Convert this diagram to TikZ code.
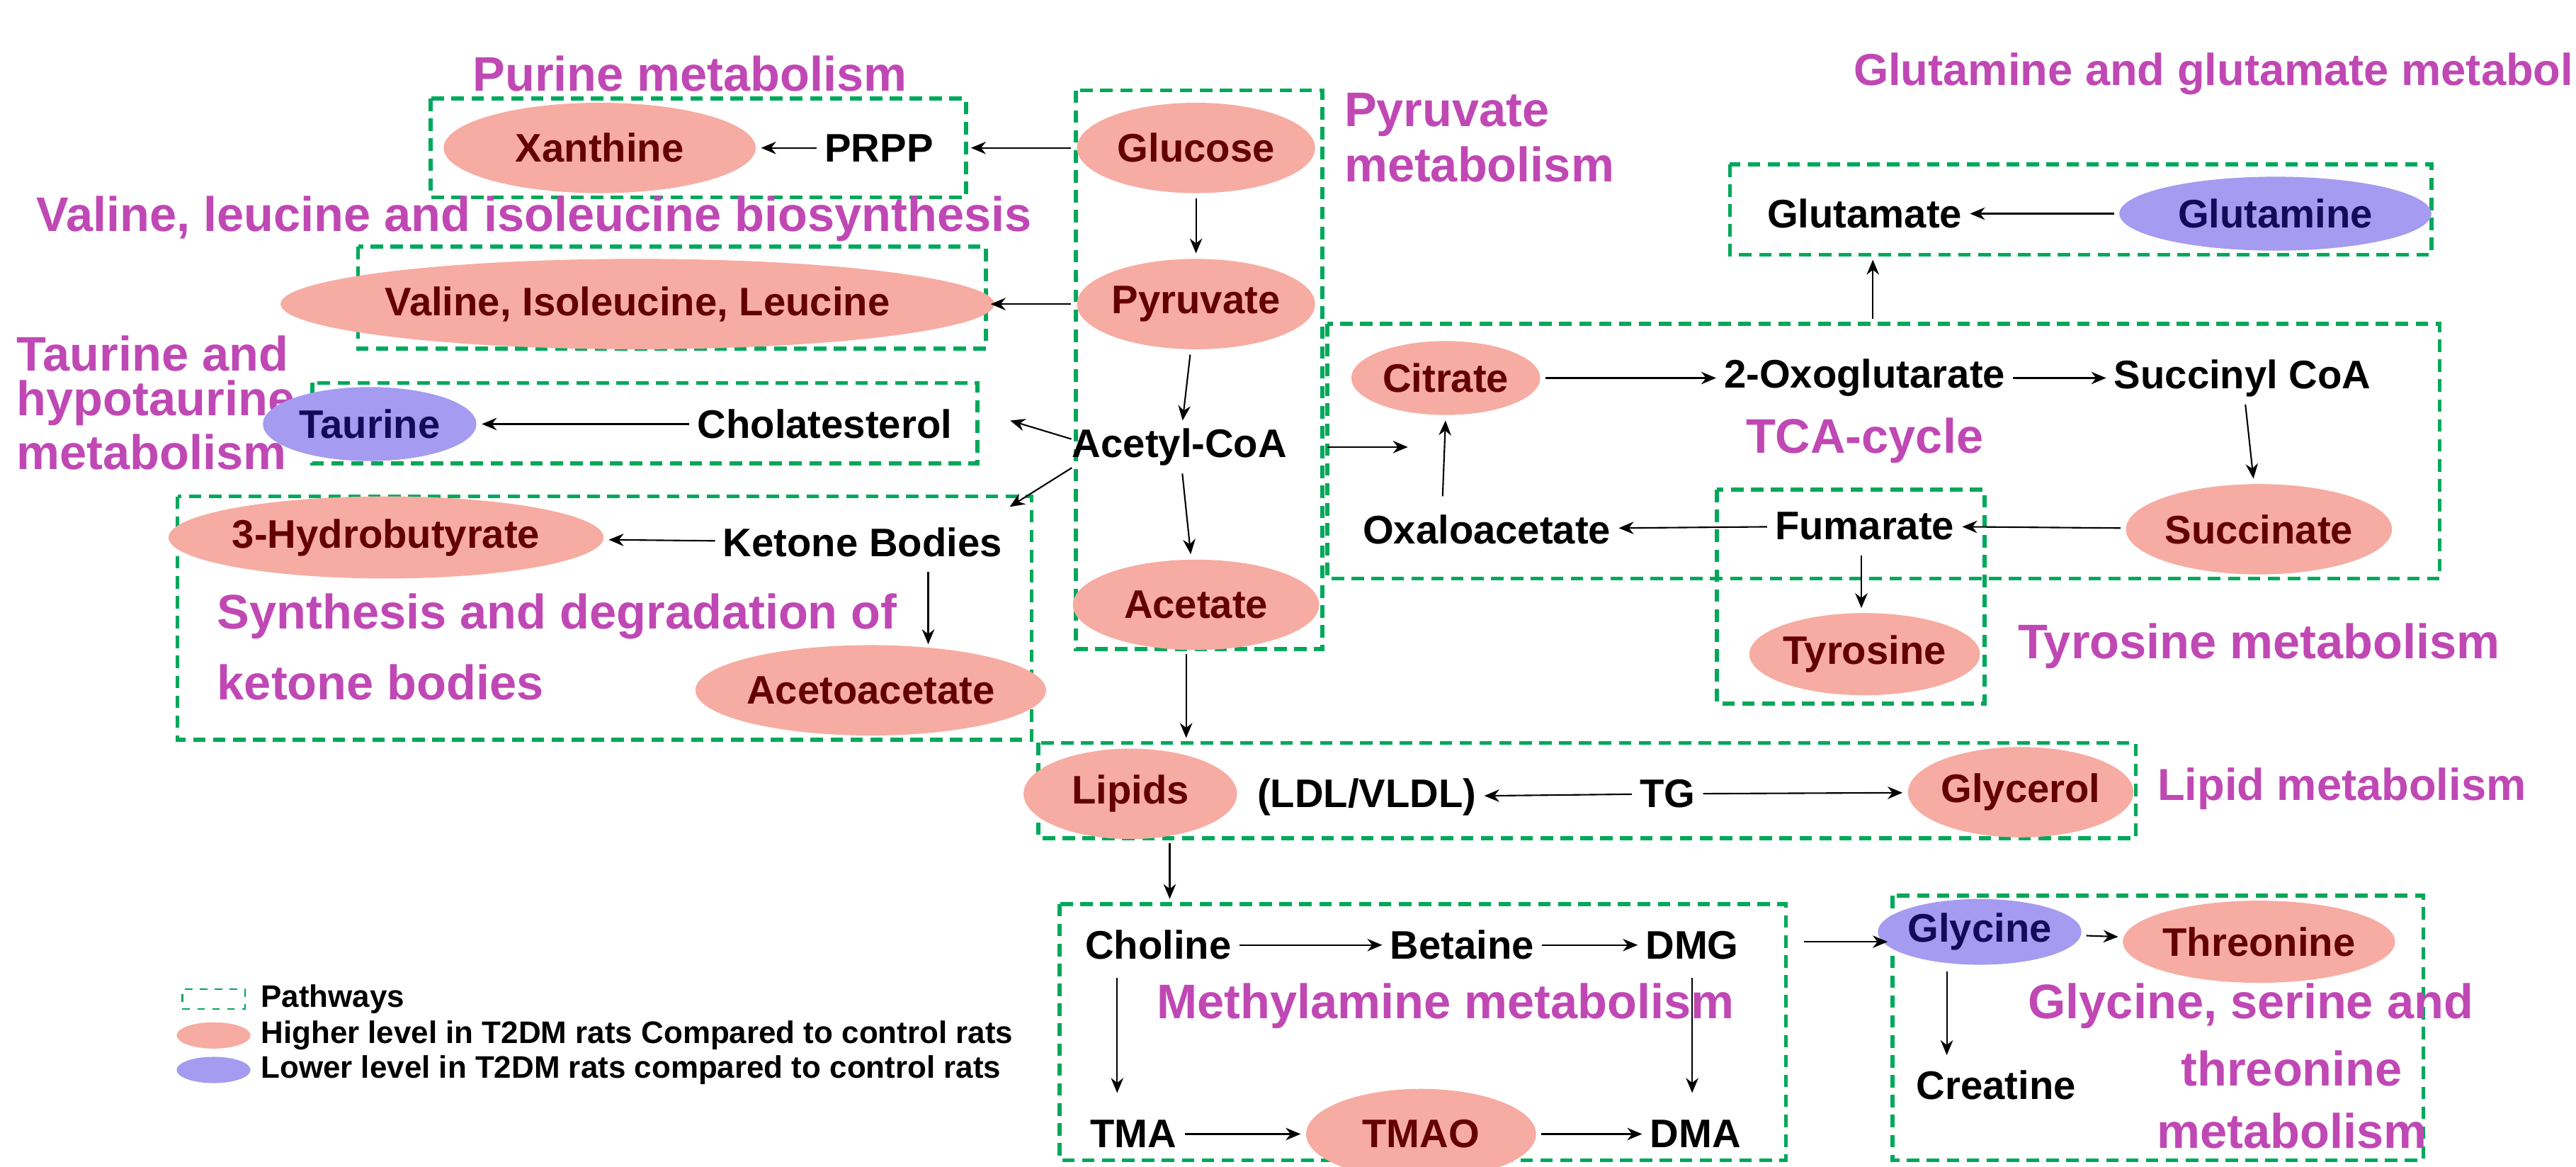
\documentclass[tikz,border=0pt]{standalone}
\usepackage{fontspec}
\setmainfont{Liberation Sans}
\usetikzlibrary{arrows.meta,shapes.geometric}
\definecolor{pk}{RGB}{246,172,162}
\definecolor{bl}{RGB}{165,155,240}
\definecolor{gr}{RGB}{0,168,90}
\definecolor{mg}{RGB}{192,72,180}
\definecolor{dr}{RGB}{100,0,0}
\definecolor{dn}{RGB}{20,10,90}
\newdimen\uu \uu=0.6596pt
\begin{document}
\begin{tikzpicture}[x=0.023195cm,y=-0.023195cm,
  t/.style={font=\fontsize{16}{18}\selectfont\bfseries,inner sep=1pt},
  ttl/.style={font=\fontsize{19.5}{20}\selectfont\bfseries,text=mg,inner sep=0pt},
  hi/.style={t,ellipse,fill=pk,text=dr,draw=none,inner sep=0pt},
  lo/.style={t,ellipse,fill=bl,text=dn,draw=none,inner sep=0pt},
  box/.style={draw=gr,line width=1.6pt,dash pattern=on 5pt off 3pt},
  ar/.style={-{Stealth[length=6pt,width=5pt]},line width=0.6pt,shorten >=2pt,shorten <=2pt}]
\useasboundingbox (0,0) rectangle (1568,710);
% boxes
\draw[box] (262,60) rectangle (588,120);
\draw[box] (655,55) rectangle (805,395);
\draw[box] (218,150) rectangle (600,212);
\draw[box] (190,233) rectangle (595,282);
\draw[box] (108,302) rectangle (628,450);
\draw[box] (1053,100) rectangle (1480,155);
\draw[box] (808,197) rectangle (1485,352);
\draw[box] (1045,298) rectangle (1208,428);
\draw[box] (632,452) rectangle (1300,510);
\draw[box] (645,550) rectangle (1087,706);
\draw[box] (1152,545) rectangle (1475,706);
% titles
\node[ttl] at (420,45) {Purine metabolism};
\node[ttl,anchor=west] at (818,70) {Pyruvate};
\node[ttl,anchor=west] at (818,100) {metabolism};
\node[ttl] at (325,133) {Valine, leucine and isoleucine biosynthesis};
\node[ttl,anchor=west] at (10,215) {Taurine and};
\node[ttl,anchor=west] at (10,245) {hypotaurine};
\node[ttl,anchor=west] at (10,275) {metabolism};
\node[ttl,anchor=west] at (132,375) {Synthesis and degradation of};
\node[ttl,anchor=west] at (132,415) {ketone bodies};
\node[ttl,anchor=west,font=\fontsize{18}{20}\selectfont\bfseries] at (1128,45) {Glutamine and glutamate metabolism};
\node[ttl] at (1135,268) {TCA-cycle};
\node[ttl,anchor=west] at (1228,393) {Tyrosine metabolism};
\node[ttl,anchor=west,font=\fontsize{18}{20}\selectfont\bfseries] at (1313,480) {Lipid metabolism};
\node[ttl] at (880,612) {Methylamine metabolism};
\node[ttl] at (1370,612) {Glycine, serine and};
\node[ttl] at (1395,650) {threonine};
\node[ttl] at (1395,688) {metabolism};
% nodes
\node[hi,minimum width=190\uu,minimum height=55\uu] (xan) at (365,90) {Xanthine};
\node[t] (prpp) at (535,90) {PRPP};
\node[hi,minimum width=145\uu,minimum height=55\uu] (glu) at (728,90) {Glucose};
\node[hi,minimum width=145\uu,minimum height=55\uu] (pyr) at (728,185) {Pyruvate};
\node[t] (acc) at (718,272) {Acetyl-CoA};
\node[hi,minimum width=150\uu,minimum height=55\uu] (ace) at (728,368) {Acetate};
\node[hi,minimum width=325\uu,minimum height=55\uu] (val) at (388,185) {Valine, Isoleucine, Leucine};
\node[lo,minimum width=130\uu,minimum height=45\uu] (tau) at (225,258) {Taurine};
\node[t] (cho) at (502,258) {Cholatesterol};
\node[hi,minimum width=250\uu,minimum height=50\uu] (hb) at (235,327) {3-Hydrobutyrate};
\node[t] (kb) at (525,330) {Ketone Bodies};
\node[hi,minimum width=190\uu,minimum height=55\uu] (aa) at (530,420) {Acetoacetate};
\node[t] (glut) at (1135,130) {Glutamate};
\node[lo,minimum width=190\uu,minimum height=45\uu] (glm) at (1385,130) {Glutamine};
\node[hi,minimum width=115\uu,minimum height=45\uu] (cit) at (880,230) {Citrate};
\node[t] (oxo) at (1135,230) {2-Oxoglutarate};
\node[t] (suc) at (1365,230) {Succinyl CoA};
\node[t] (oxa) at (905,322) {Oxaloacetate};
\node[hi,minimum width=140\uu,minimum height=55\uu] (sn) at (1375,322) {Succinate};
\node[t] (fum) at (1135,320) {Fumarate};
\node[hi,minimum width=125\uu,minimum height=50\uu] (tyr) at (1135,398) {Tyrosine};
\node[hi,minimum width=130\uu,minimum height=55\uu] (lip) at (688,483) {Lipids};
\node[t] (ldl) at (832,485) {(LDL/VLDL)};
\node[t] (tg) at (1015,483) {TG};
\node[hi,minimum width=130\uu,minimum height=55\uu] (gly) at (1230,482) {Glycerol};
\node[t] (chl) at (705,575) {Choline};
\node[t] (bet) at (890,575) {Betaine};
\node[t] (dmg) at (1030,575) {DMG};
\node[t] (tma) at (690,690) {TMA};
\node[hi,minimum width=140\uu,minimum height=55\uu] (tmao) at (865,690) {TMAO};
\node[t] (dma) at (1032,690) {DMA};
\node[lo,minimum width=112\uu,minimum height=40\uu] (gc) at (1205,567) {Glycine};
\node[hi,minimum width=140\uu,minimum height=50\uu] (thr) at (1375,573) {Threonine};
\node[t] (cre) at (1215,660) {Creatine};
% box anchor coordinates
\coordinate (pvL1) at (655,90); \coordinate (puR) at (588,90);
\coordinate (pvL2) at (655,185); \coordinate (vaR) at (600,185);
\coordinate (pvL3) at (655,268); \coordinate (taR) at (612,255);
\coordinate (pvL4) at (655,283); \coordinate (keR) at (612,310);
\coordinate (pvR) at (805,272); \coordinate (tcL) at (860,272);
\coordinate (tcT) at (1140,197); \coordinate (gmB) at (1140,155);
\coordinate (pvB) at (722,395); \coordinate (lpT) at (722,452);
\coordinate (lpB) at (712,510); \coordinate (meT) at (712,550);
\coordinate (meR) at (1095,573); \coordinate (gyL) at (1152,573);
\coordinate (kbd) at (565,345); \coordinate (aat) at (565,395);
\coordinate (oxt) at (878,305); \coordinate (cht) at (680,592);
\coordinate (tmt) at (680,668); \coordinate (gct) at (1185,588);
\coordinate (crt) at (1185,645);
\coordinate (dmb) at (1030,592); \coordinate (dmt) at (1030,668);
\coordinate (ftb) at (1133,335); \coordinate (tyt) at (1133,373);
% arrows
\draw[ar] (pvL1) -- (puR);
\draw[ar] (prpp) -- (xan);
\draw[ar] (glu) -- (pyr);
\draw[ar] (pyr) -- (acc);
\draw[ar] (acc) -- (ace);
\draw[ar] (pvL2) -- (vaR);
\draw[ar] (cho) -- (tau);
\draw[ar] (pvL3) -- (taR);
\draw[ar] (pvL4) -- (keR);
\draw[ar] (kb) -- (hb);
\draw[ar] (kbd) -- (aat);
\draw[ar] (pvR) -- (tcL);
\draw[ar] (tcT) -- (gmB);
\draw[ar] (glm) -- (glut);
\draw[ar] (cit) -- (oxo);
\draw[ar] (oxo) -- (suc);
\draw[ar] (suc) -- (sn);
\draw[ar] (sn) -- (fum);
\draw[ar] (fum) -- (oxa);
\draw[ar] (oxt) -- (cit.south);
\draw[ar] (ftb) -- (tyt);
\draw[ar] (pvB) -- (lpT);
\draw[ar] (tg) -- (ldl);
\draw[ar] (tg) -- (gly);
\draw[ar] (lpB) -- (meT);
\draw[ar] (chl) -- (bet);
\draw[ar] (bet) -- (dmg);
\draw[ar] (cht) -- (tmt);
\draw[ar] (dmb) -- (dmt);
\draw[ar] (tma) -- (tmao);
\draw[ar] (tmao) -- (dma);
\draw[ar] (meR) -- (gyL);
\draw[ar] (gc) -- (thr);
\draw[ar] (gct) -- (crt);
% legend
\node[draw=gr,dashed,line width=0.6pt,minimum width=38\uu,minimum height=12\uu,inner sep=0] (lg1) at (130,608) {};
\node[ellipse,fill=pk,minimum width=45\uu,minimum height=16\uu,inner sep=0] (lg2) at (130,630) {};
\node[ellipse,fill=bl,minimum width=45\uu,minimum height=16\uu,inner sep=0] (lg3) at (130,651) {};
\node[anchor=west,font=\fontsize{12.5}{13}\selectfont\bfseries,inner sep=1pt] (lt1) at (157,608) {Pathways};
\node[anchor=west,font=\fontsize{12.5}{13}\selectfont\bfseries,inner sep=1pt] (lt2) at (157,630) {Higher level in T2DM rats Compared to control rats};
\node[anchor=west,font=\fontsize{12.5}{13}\selectfont\bfseries,inner sep=1pt] (lt3) at (157,651) {Lower level in T2DM rats compared to control rats};
\end{tikzpicture}
\end{document}
